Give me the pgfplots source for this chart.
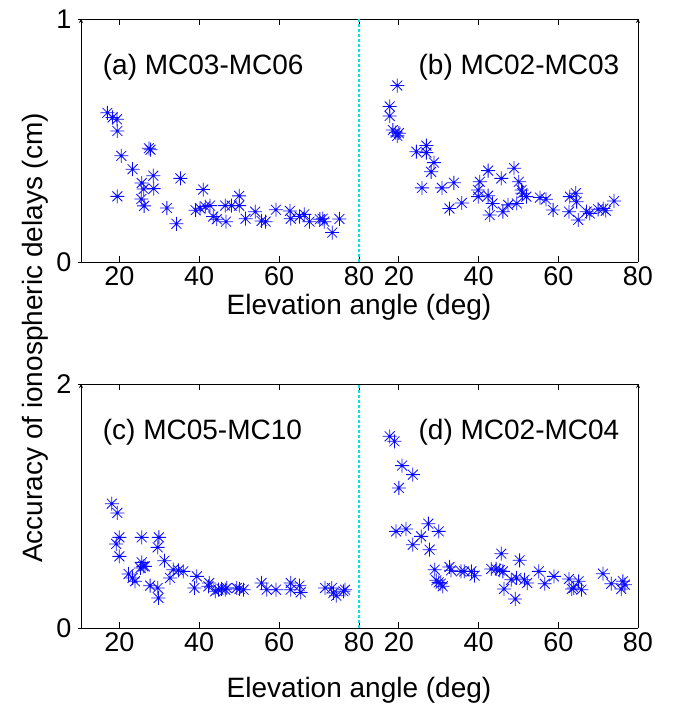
\documentclass[border=0pt]{standalone}
\usepackage{pgfplots}
\pgfplotsset{compat=1.18}
\usepackage{fontspec}
\setmainfont{Liberation Sans}
\pgfdeclareplotmark{mstar}{%
  \pgfpathmoveto{\pgfqpoint{-\pgfplotmarksize}{0pt}}\pgfpathlineto{\pgfqpoint{\pgfplotmarksize}{0pt}}%
  \pgfpathmoveto{\pgfqpoint{0pt}{-\pgfplotmarksize}}\pgfpathlineto{\pgfqpoint{0pt}{\pgfplotmarksize}}%
  \pgfpathmoveto{\pgfqpoint{-0.707\pgfplotmarksize}{-0.707\pgfplotmarksize}}\pgfpathlineto{\pgfqpoint{0.707\pgfplotmarksize}{0.707\pgfplotmarksize}}%
  \pgfpathmoveto{\pgfqpoint{-0.707\pgfplotmarksize}{0.707\pgfplotmarksize}}\pgfpathlineto{\pgfqpoint{0.707\pgfplotmarksize}{-0.707\pgfplotmarksize}}%
  \pgfusepathqstroke}
\definecolor{mblue}{RGB}{10,10,255}
\definecolor{mcyan}{RGB}{0,230,240}
\pgfplotsset{
  panel/.style={
    scale only axis, anchor=south west, ymin=0, xmax=80,
    xtick={20,40,60,80}, tick align=inside, major tick length=6pt,
    tick style={black, line width=0.8pt},
    axis line style={black, line width=0.8pt},
    every inner x axis line/.append style={-},
    every inner y axis line/.append style={-},
    every outer x axis line/.append style={-},
    every outer y axis line/.append style={-},
    ticklabel style={font=\fontsize{27}{30}\selectfont},
    /pgf/number format/assume math mode=true,
    xticklabel style={yshift=-1pt},
    yticklabel style={xshift=-3pt},
    clip=false,
  },
  leftp/.style={panel, width=278pt, xmin=10.4, axis x line=box, axis y line=left},
  rightp/.style={panel, width=279pt, xmin=10, axis x line=box, axis y line=right, ytick=\empty},
  stars/.style={only marks, mark=mstar, mark size=7pt, color=mblue, line width=0.8pt, mark options={solid}},
}
\newcommand{\lab}{\fontsize{28}{32}\selectfont}
\begin{document}
\begin{tikzpicture}
\useasboundingbox (0pt,0pt) rectangle (672pt,711pt);
% (a)
\begin{axis}[leftp, at={(81pt,449pt)}, height=243pt, ymax=1, ytick={0,1}]
\addplot[stars] coordinates {
(17.0,0.614) (18.3,0.595) (19.4,0.587) (19.5,0.539) (20.5,0.437) (19.5,0.270)
(23.3,0.382) (25.6,0.325) (26.1,0.300) (25.5,0.259) (26.2,0.231) (27.4,0.468)
(27.8,0.462) (28.5,0.355) (28.6,0.302) (31.9,0.222) (34.3,0.157) (35.3,0.344)
(39.1,0.213) (41.0,0.298) (40.2,0.221) (41.5,0.228) (42.7,0.232) (43.5,0.187)
(44.4,0.176) (46.5,0.232) (46.7,0.166) (48.1,0.232) (50.0,0.232) (50.0,0.272)
(51.6,0.178) (54.0,0.207) (55.6,0.169) (56.6,0.166) (59.2,0.215) (62.7,0.210)
(62.9,0.178) (65.1,0.187) (66.3,0.196) (67.6,0.166) (70.2,0.176) (70.9,0.178)
(71.3,0.166) (73.3,0.121) (75.1,0.177)
};
\node[anchor=west, font=\lab] at (axis cs:15.0,0.80) {(a) MC03-MC06};
\end{axis}
% (b)
\begin{axis}[rightp, at={(359pt,449pt)}, height=243pt, ymax=1]
\addplot[stars] coordinates {
(19.6,0.726) (17.7,0.640) (17.7,0.601) (18.5,0.543) (19.2,0.532) (20.0,0.530)
(19.6,0.519) (24.4,0.454) (26.9,0.479) (26.9,0.450) (28.8,0.409) (28.1,0.371)
(25.8,0.305) (30.8,0.305) (33.8,0.326) (32.7,0.220) (35.8,0.243) (40.3,0.330)
(39.9,0.296) (39.9,0.269) (42.4,0.376) (42.4,0.273) (43.5,0.241) (42.8,0.193)
(45.7,0.344) (46.1,0.207) (47.4,0.235) (48.9,0.386) (50.1,0.330) (49.6,0.241)
(50.8,0.296) (51.0,0.283) (52.0,0.269) (55.4,0.265) (56.9,0.258) (58.7,0.214)
(62.9,0.269) (64.4,0.283) (64.6,0.248) (62.7,0.207) (65.0,0.173) (67.1,0.207)
(67.9,0.200) (70.0,0.217) (71.3,0.220) (71.9,0.211) (74.0,0.251)
};
\node[anchor=east, font=\lab] at (axis cs:76.2,0.80) {(b) MC02-MC03};
\end{axis}
% (c)
\begin{axis}[leftp, at={(81pt,83pt)}, height=244pt, ymax=2, ytick={0,2}]
\addplot[stars] coordinates {
(18.1,1.019) (19.5,0.943) (20.0,0.743) (19.2,0.689) (20.0,0.587) (22.3,0.443)
(23.3,0.410) (23.9,0.383) (25.6,0.743) (25.6,0.538) (26.0,0.505) (25.3,0.492)
(26.4,0.505) (27.7,0.347) (29.9,0.743) (29.6,0.661) (29.6,0.328) (29.8,0.246)
(31.3,0.552) (32.7,0.410) (33.5,0.478) (34.8,0.473) (36.0,0.464) (38.8,0.328)
(39.4,0.423) (42.5,0.369) (42.3,0.342) (44.0,0.301) (44.8,0.314) (45.6,0.320)
(46.5,0.314) (46.9,0.328) (49.4,0.328) (50.1,0.320) (51.1,0.314) (55.6,0.369)
(56.9,0.314) (59.2,0.314) (62.9,0.369) (62.9,0.314) (65.1,0.347) (65.4,0.292)
(71.5,0.328) (73.2,0.328) (73.6,0.287) (74.3,0.265) (76.1,0.301) (76.5,0.314)
};
\node[anchor=west, font=\lab] at (axis cs:15.0,1.607) {(c) MC05-MC10};
\end{axis}
% (d)
\begin{axis}[rightp, at={(359pt,83pt)}, height=244pt, ymax=2]
\addplot[stars] coordinates {
(17.7,1.571) (18.9,1.530) (20.8,1.331) (23.5,1.257) (20.0,1.148) (19.3,0.792)
(21.8,0.811) (23.5,0.683) (25.6,0.751) (27.4,0.855) (27.7,0.642) (30.0,0.792)
(29.0,0.478) (29.4,0.391) (30.0,0.374) (30.5,0.363) (31.0,0.342) (32.7,0.500)
(33.1,0.473) (35.6,0.464) (36.4,0.464) (38.2,0.464) (39.0,0.429) (43.2,0.484)
(44.4,0.484) (45.3,0.473) (46.1,0.464) (45.7,0.609) (46.4,0.320) (48.2,0.396)
(49.2,0.238) (49.5,0.410) (50.3,0.555) (51.5,0.396) (52.2,0.369) (55.1,0.464)
(56.6,0.363) (58.9,0.423) (62.7,0.402) (63.4,0.320) (63.9,0.328) (65.1,0.383)
(65.8,0.314) (71.2,0.445) (73.3,0.363) (75.8,0.320) (76.2,0.383) (76.7,0.355)
};
\node[anchor=east, font=\lab] at (axis cs:76.2,1.607) {(d) MC02-MC04};
\end{axis}
\draw[draw=mcyan, line width=1.2pt, dash pattern=on 3pt off 2pt] (359pt,449pt) -- (359pt,692pt);
\draw[draw=mcyan, line width=1.2pt, dash pattern=on 3pt off 2pt] (359pt,83pt) -- (359pt,327pt);
\node[font=\lab] at (359pt,404pt) {Elevation angle (deg)};
\node[font=\lab] at (359pt,21pt) {Elevation angle (deg)};
\node[font=\lab, rotate=90] at (35pt,373pt) {Accuracy of ionospheric delays (cm)};
\end{tikzpicture}
\end{document}
